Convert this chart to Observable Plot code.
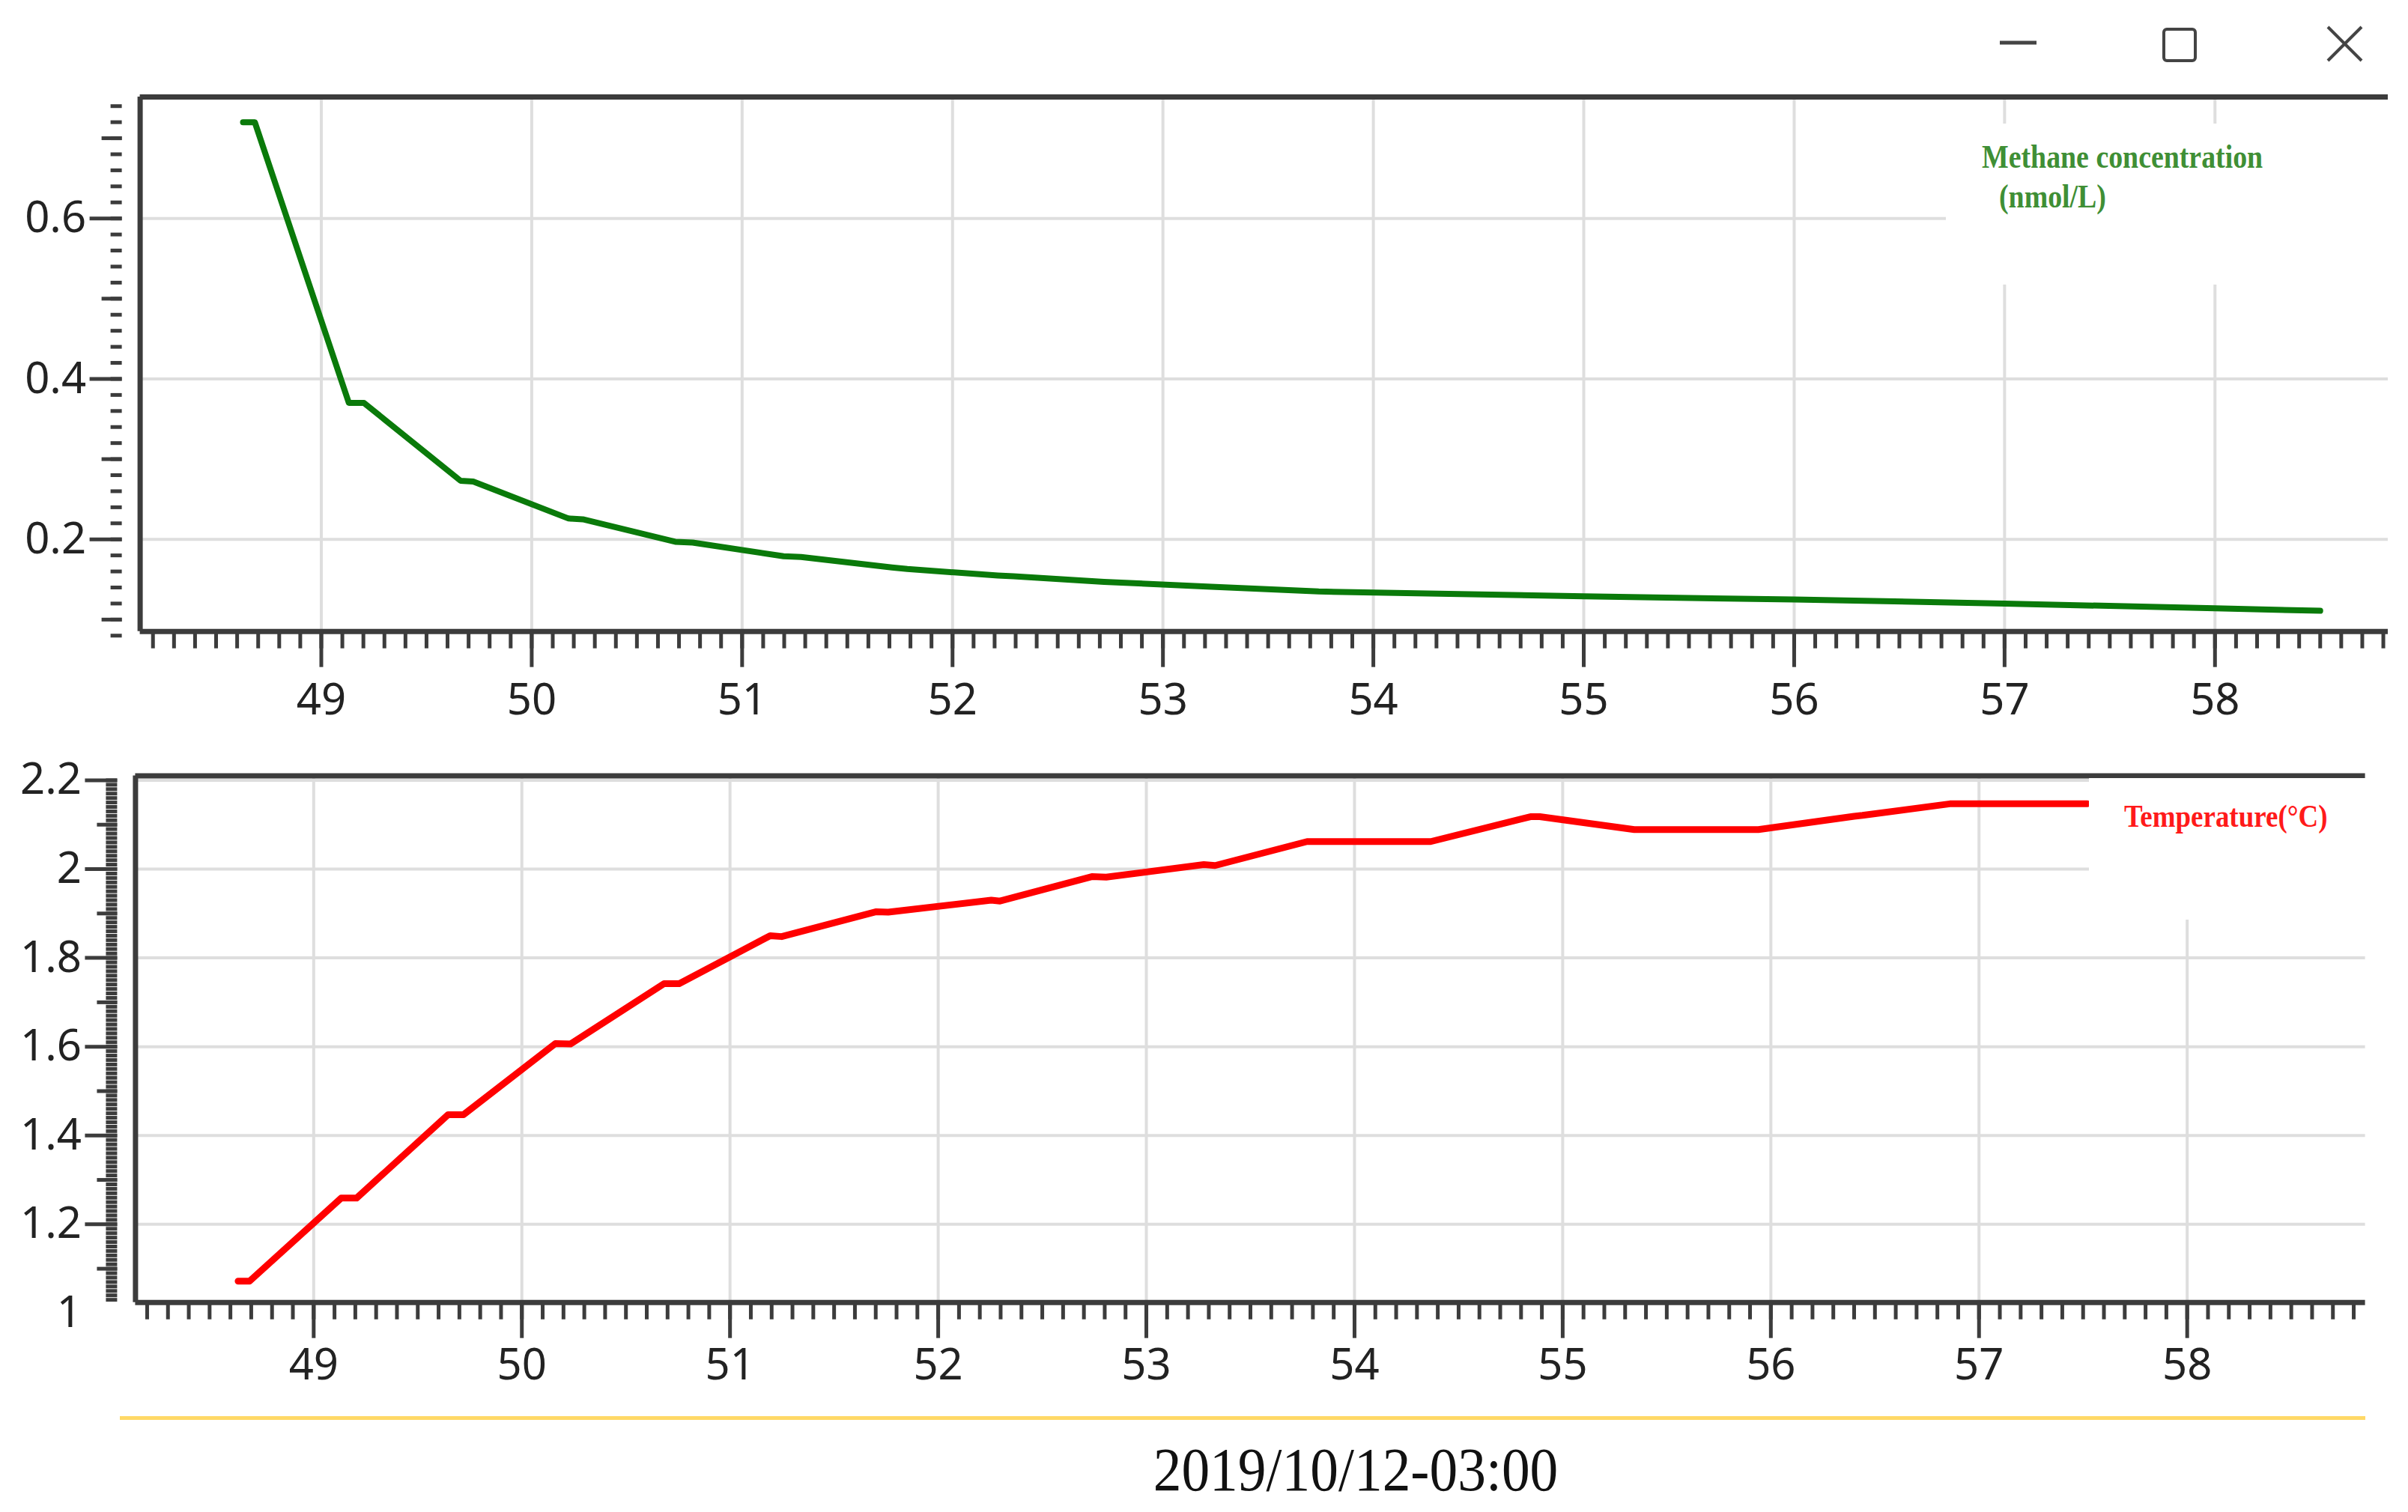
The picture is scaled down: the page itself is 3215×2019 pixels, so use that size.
<!DOCTYPE html>
<html><head><meta charset="utf-8">
<script src="https://cdn.jsdelivr.net/npm/d3@7"></script>
<script src="https://cdn.jsdelivr.net/npm/@observablehq/plot@0.6"></script>
<style>
html,body{margin:0;padding:0;background:#fff;}
#root{position:relative;width:3215px;height:2019px;overflow:hidden;background:#fff;}
.abs{position:absolute;}
.leg{font-family:"Liberation Serif","Times New Roman",serif;font-weight:bold;white-space:nowrap;transform-origin:left center;}
</style></head><body><div id="root"></div>
<script>
// ---- data ----
const methaneTime  = [48.628, 48.684, 49.131, 49.203, 49.662, 49.722, 50.175, 50.243, 50.682, 50.765, 51.197, 51.28, 51.712, 51.785, 52.215, 52.29, 52.72, 53.23, 53.74, 55.0, 56.0, 57.0, 58.0, 58.5];
const methaneValue = [0.720, 0.720, 0.370, 0.370, 0.273, 0.272, 0.226, 0.225, 0.197, 0.196, 0.179, 0.178, 0.165, 0.163, 0.155, 0.154, 0.147, 0.141, 0.135, 0.129, 0.125, 0.120, 0.114, 0.111];
const tempTime  = [48.637, 48.692, 49.132, 49.206, 49.646, 49.72, 50.161, 50.233, 50.683, 50.756, 51.193, 51.248, 51.703, 51.76, 52.255, 52.297, 52.738, 52.807, 53.276, 53.33, 53.772, 54.366, 54.845, 54.89, 55.344, 55.94, 56.4, 56.44, 56.86, 57.52];
const tempValue = [1.072, 1.072, 1.259, 1.259, 1.447, 1.447, 1.607, 1.606, 1.742, 1.742, 1.850, 1.848, 1.904, 1.903, 1.930, 1.928, 1.983, 1.982, 2.010, 2.008, 2.062, 2.062, 2.118, 2.118, 2.089, 2.089, 2.119, 2.121, 2.147, 2.147];
const hourTicks = [49, 50, 51, 52, 53, 54, 55, 56, 57, 58];
const methaneMajorTicks = [0.2, 0.4, 0.6];
const methaneMidTicks = [0.1, 0.3, 0.5, 0.7];
const tempLabelTicks = [1, 1.2, 1.4, 1.6, 1.8, 2, 2.2];
const tempMajorTicks = [1.2, 1.4, 1.6, 1.8, 2, 2.2];
const tempMidTicks = [1.1, 1.3, 1.5, 1.7, 1.9, 2.1];
const methaneXDomain = [48.139, 58.823];
const methaneYDomain = [0.0852, 0.7514];
const tempXDomain = [48.144, 58.856];
const tempYDomain = [1.024, 2.21];
const methaneLegend = ["Methane concentration", "(nmol/L)"];
const tempLegend = "Temperature(°C)";
const dateCaption = "2019/10/12-03:00";

// minor tick positions
const minorX = d3.range(482, 589).map(i => i / 10);
const methaneMinorY = d3.range(4, 38).map(i => i / 50);
const tempMinorY = d3.range(103, 221).map(i => i / 100);

const methane = methaneTime.map((t, i) => ({t, v: methaneValue[i]}));
const temp = tempTime.map((t, i) => ({t, v: tempValue[i]}));

const FONT = "'Noto Sans','Open Sans',sans-serif";
const AX = "#3c3c3c";
const GRIDC = "#dedede";
const root = document.getElementById("root");

function place(svg, top, thick) {
  svg.classList.add("abs");
  svg.style.left = "0px";
  svg.style.top = top + "px";
  if (thick) svg.querySelectorAll("line, path").forEach(e => {
    e.setAttribute("stroke-width", thick);
    e.style.strokeWidth = thick + "px";
  });
  root.appendChild(svg);
}

function baseStyle(color) {
  return {fontFamily: FONT, fontSize: "58px", background: "transparent", overflow: "visible", color};
}

function panel(cfg) {
  const {data, color, lineWidth, xDomain, yDomain, labelY, majorY, midY, minorY, gridY, height, m, top, xLabelOffset} = cfg;
  const W = 3215;
  const ghost = Plot.line(data, {x: "t", y: "v", strokeOpacity: 0});
  // main layer: grid, frame, data line
  place(Plot.plot({
    width: W, height, ...m,
    x: {domain: xDomain, axis: null, label: null},
    y: {domain: yDomain, axis: null, label: null},
    style: baseStyle(AX),
    marks: [
      Plot.ruleX(hourTicks, {stroke: GRIDC, strokeWidth: 4}),
      Plot.ruleY(gridY, {stroke: GRIDC, strokeWidth: 4}),
      Plot.ruleY([yDomain[1]], {stroke: AX, strokeWidth: 7}),
      Plot.ruleY([yDomain[0]], {stroke: AX, strokeWidth: 7}),
      Plot.ruleX([xDomain[0]], {stroke: AX, strokeWidth: 7}),
      Plot.line(data, {x: "t", y: "v", stroke: color, strokeWidth: lineWidth, strokeLinejoin: "round"})
    ]
  }), top);
  // x tick layers
  const xLayer = (ticks, tickSize, tickPadding, fmt, col, thick) => place(Plot.plot({
    width: W, height, ...m,
    x: {domain: xDomain, ticks, tickSize, tickPadding, tickFormat: fmt, label: null},
    y: {domain: yDomain, axis: null, label: null},
    style: baseStyle(col),
    marks: [ghost]
  }), top, thick);
  xLayer(minorX, 23, 3, () => "", AX, 5);
  xLayer(hourTicks, 48, 3, () => "", AX, 5);
  xLayer(hourTicks, 0, xLabelOffset, d => String(d), "#222", 0);
  // y tick layers (offset 24px to the left of the frame)
  const ym = {...m, marginLeft: m.marginLeft - 24};
  const yLayer = (ticks, tickSize, tickPadding, fmt, col, thick) => place(Plot.plot({
    width: W, height, ...ym,
    x: {domain: xDomain, axis: null, label: null},
    y: {domain: yDomain, ticks, tickSize, tickPadding, tickFormat: fmt, label: null},
    style: baseStyle(col),
    marks: [ghost]
  }), top, thick);
  yLayer(minorY, 15, 3, () => "", AX, 5);
  yLayer(midY, 27, 3, () => "", AX, 5);
  yLayer(majorY, 43, 3, () => "", AX, 5);
  yLayer(labelY, 0, 48, d => String(d), "#222", 0);
}

panel({
  data: methane, color: "#0a7a0a", lineWidth: 8,
  xDomain: methaneXDomain, yDomain: methaneYDomain,
  labelY: methaneMajorTicks, majorY: methaneMajorTicks, midY: methaneMidTicks, minorY: methaneMinorY, gridY: methaneMajorTicks,
  height: 990, top: 0,
  m: {marginLeft: 186.6, marginRight: 27, marginTop: 129, marginBottom: 147.3},
  xLabelOffset: 70
});

panel({
  data: temp, color: "#ff0000", lineWidth: 9,
  xDomain: tempXDomain, yDomain: tempYDomain,
  labelY: tempLabelTicks, majorY: tempMajorTicks, midY: tempMidTicks, minorY: tempMinorY, gridY: tempMajorTicks,
  height: 900, top: 990,
  m: {marginLeft: 180.4, marginRight: 57.4, marginTop: 45.5, marginBottom: 151.3},
  xLabelOffset: 62
});

function addDiv(css, text, cls) {
  const d = document.createElement("div");
  d.className = "abs" + (cls ? " " + cls : "");
  d.style.cssText += css;
  if (text != null) d.textContent = text;
  root.appendChild(d);
  return d;
}

// legend boxes
addDiv("left:2598px;top:165px;width:600px;height:215px;background:#fff;");
addDiv("left:2646px;top:186px;font-size:44px;line-height:48px;color:#3f8f35;transform:scaleX(0.86);", methaneLegend[0], "leg");
addDiv("left:2669px;top:238px;font-size:44px;line-height:50px;color:#3f8f35;transform:scaleX(0.86);", methaneLegend[1], "leg");

addDiv("left:2789px;top:1039px;width:380px;height:189px;background:#fff;");
addDiv("left:2836px;top:1066px;font-size:43px;line-height:48px;color:#ff1a1a;transform:scaleX(0.86);", tempLegend, "leg");

// bottom separator and caption
addDiv("left:160px;top:1891px;width:2998px;height:5px;background:#ffd966;");
addDiv("left:1810px;top:1922px;font-family:'Liberation Serif','Times New Roman',serif;font-size:82px;line-height:82px;color:#111;white-space:nowrap;transform:translateX(-50%) scaleX(0.92);", dateCaption);

// window controls
const ns = "http://www.w3.org/2000/svg";
const win = document.createElementNS(ns, "svg");
win.setAttribute("width", "600"); win.setAttribute("height", "110");
win.setAttribute("class", "abs");
win.style.left = "2600px"; win.style.top = "0px";
win.innerHTML = '<line x1="70" y1="57" x2="119" y2="57" stroke="#444" stroke-width="5"/>' +
  '<rect x="289" y="39" width="42" height="42" rx="4" fill="none" stroke="#444" stroke-width="4"/>' +
  '<line x1="508" y1="36" x2="553" y2="81" stroke="#444" stroke-width="4"/>' +
  '<line x1="553" y1="36" x2="508" y2="81" stroke="#444" stroke-width="4"/>';
root.appendChild(win);
</script></body></html>
